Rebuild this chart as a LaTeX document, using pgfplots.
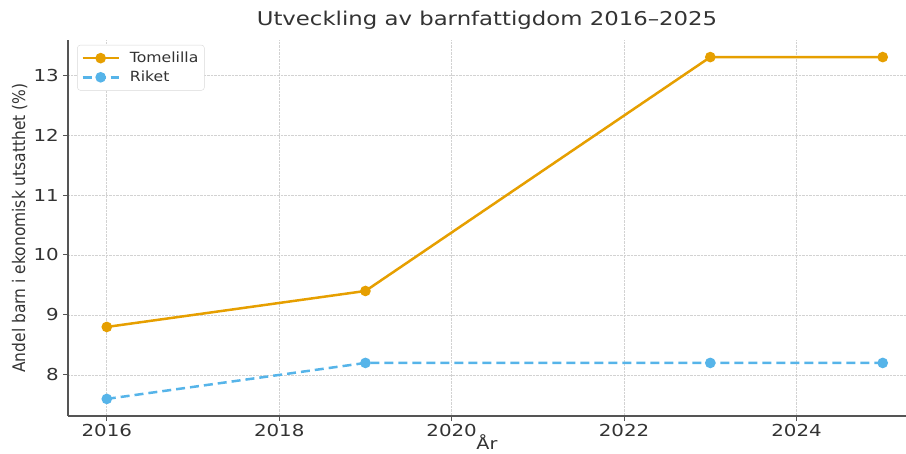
\documentclass[border=0pt]{standalone}
\usepackage{fontspec}
\setmainfont{DejaVu Sans}
\usepackage{pgfplots}
\pgfplotsset{compat=1.18}
\definecolor{tom}{HTML}{E69F00}
\definecolor{rik}{HTML}{56B4E9}
\definecolor{spine}{HTML}{555555}
\definecolor{txt}{HTML}{333333}
\begin{document}
\begin{tikzpicture}
\begin{axis}[
  scale only axis, width=838pt, height=376pt,
  xmin=2015.55, xmax=2025.27, ymin=7.315, ymax=13.585,
  axis lines=left,
  axis line style={-, spine, line width=1.5pt},
  xtick={2016,2018,2020,2022,2024}, ytick={8,9,10,11,12,13},
  grid=major, grid style={densely dotted, gray!35, line width=0.6pt},
  tick style={spine, line width=1pt}, tick align=outside, major tick length=5pt,
  ticklabel style={font=\fontsize{16.5}{19}\selectfont, text=txt, xscale=1.2},
  /pgf/number format/assume math mode=true,
  /pgf/number format/1000 sep={},
  title={Utveckling av barnfattigdom 2016–2025},
  title style={font=\fontsize{19}{22}\selectfont, text=txt, xscale=1.2, at={(axis description cs:0.5,1)}, anchor=base, yshift=8pt},
  xlabel={År},
  xlabel style={font=\fontsize{16}{19}\selectfont, text=txt, xscale=1.2, at={(axis description cs:0.5,0)}, anchor=base, yshift=-34pt},
  ylabel={Andel barn i ekonomisk utsatthet (\%)},
  ylabel style={font=\fontsize{15.5}{19}\selectfont, text=txt, at={(axis description cs:-0.0513,0.5)}, anchor=base, yscale=1.12},
  legend style={at={(axis description cs:0.011,0.987)}, anchor=north west, font=\fontsize{14}{17}\selectfont, text=txt,
    draw=gray!30, rounded corners=3pt, legend cell align=left, row sep=3pt, inner xsep=4pt, inner ysep=5pt},
  legend image code/.code={\draw[mark repeat=2, mark phase=2] plot coordinates {(0pt,0pt) (18pt,0pt) (36pt,0pt)};},
  clip=false,
]
\addplot[tom, line width=2.5pt, mark=*, mark size=4pt, mark options={solid}] coordinates {(2016,8.8) (2019,9.4) (2023,13.3) (2025,13.3)};
\addlegendentry{\hspace{8pt}\scalebox{1.12}[1]{Tomelilla}}
\addplot[rik, line width=2.5pt, dash pattern=on 9pt off 5pt, mark=*, mark size=4pt, mark options={solid}] coordinates {(2016,7.6) (2019,8.2) (2023,8.2) (2025,8.2)};
\addlegendentry{\hspace{8pt}\scalebox{1.12}[1]{Riket}}
\end{axis}
\pgfresetboundingbox
\useasboundingbox (-68pt,-37pt) rectangle (838pt,416pt);
\end{tikzpicture}
\end{document}
